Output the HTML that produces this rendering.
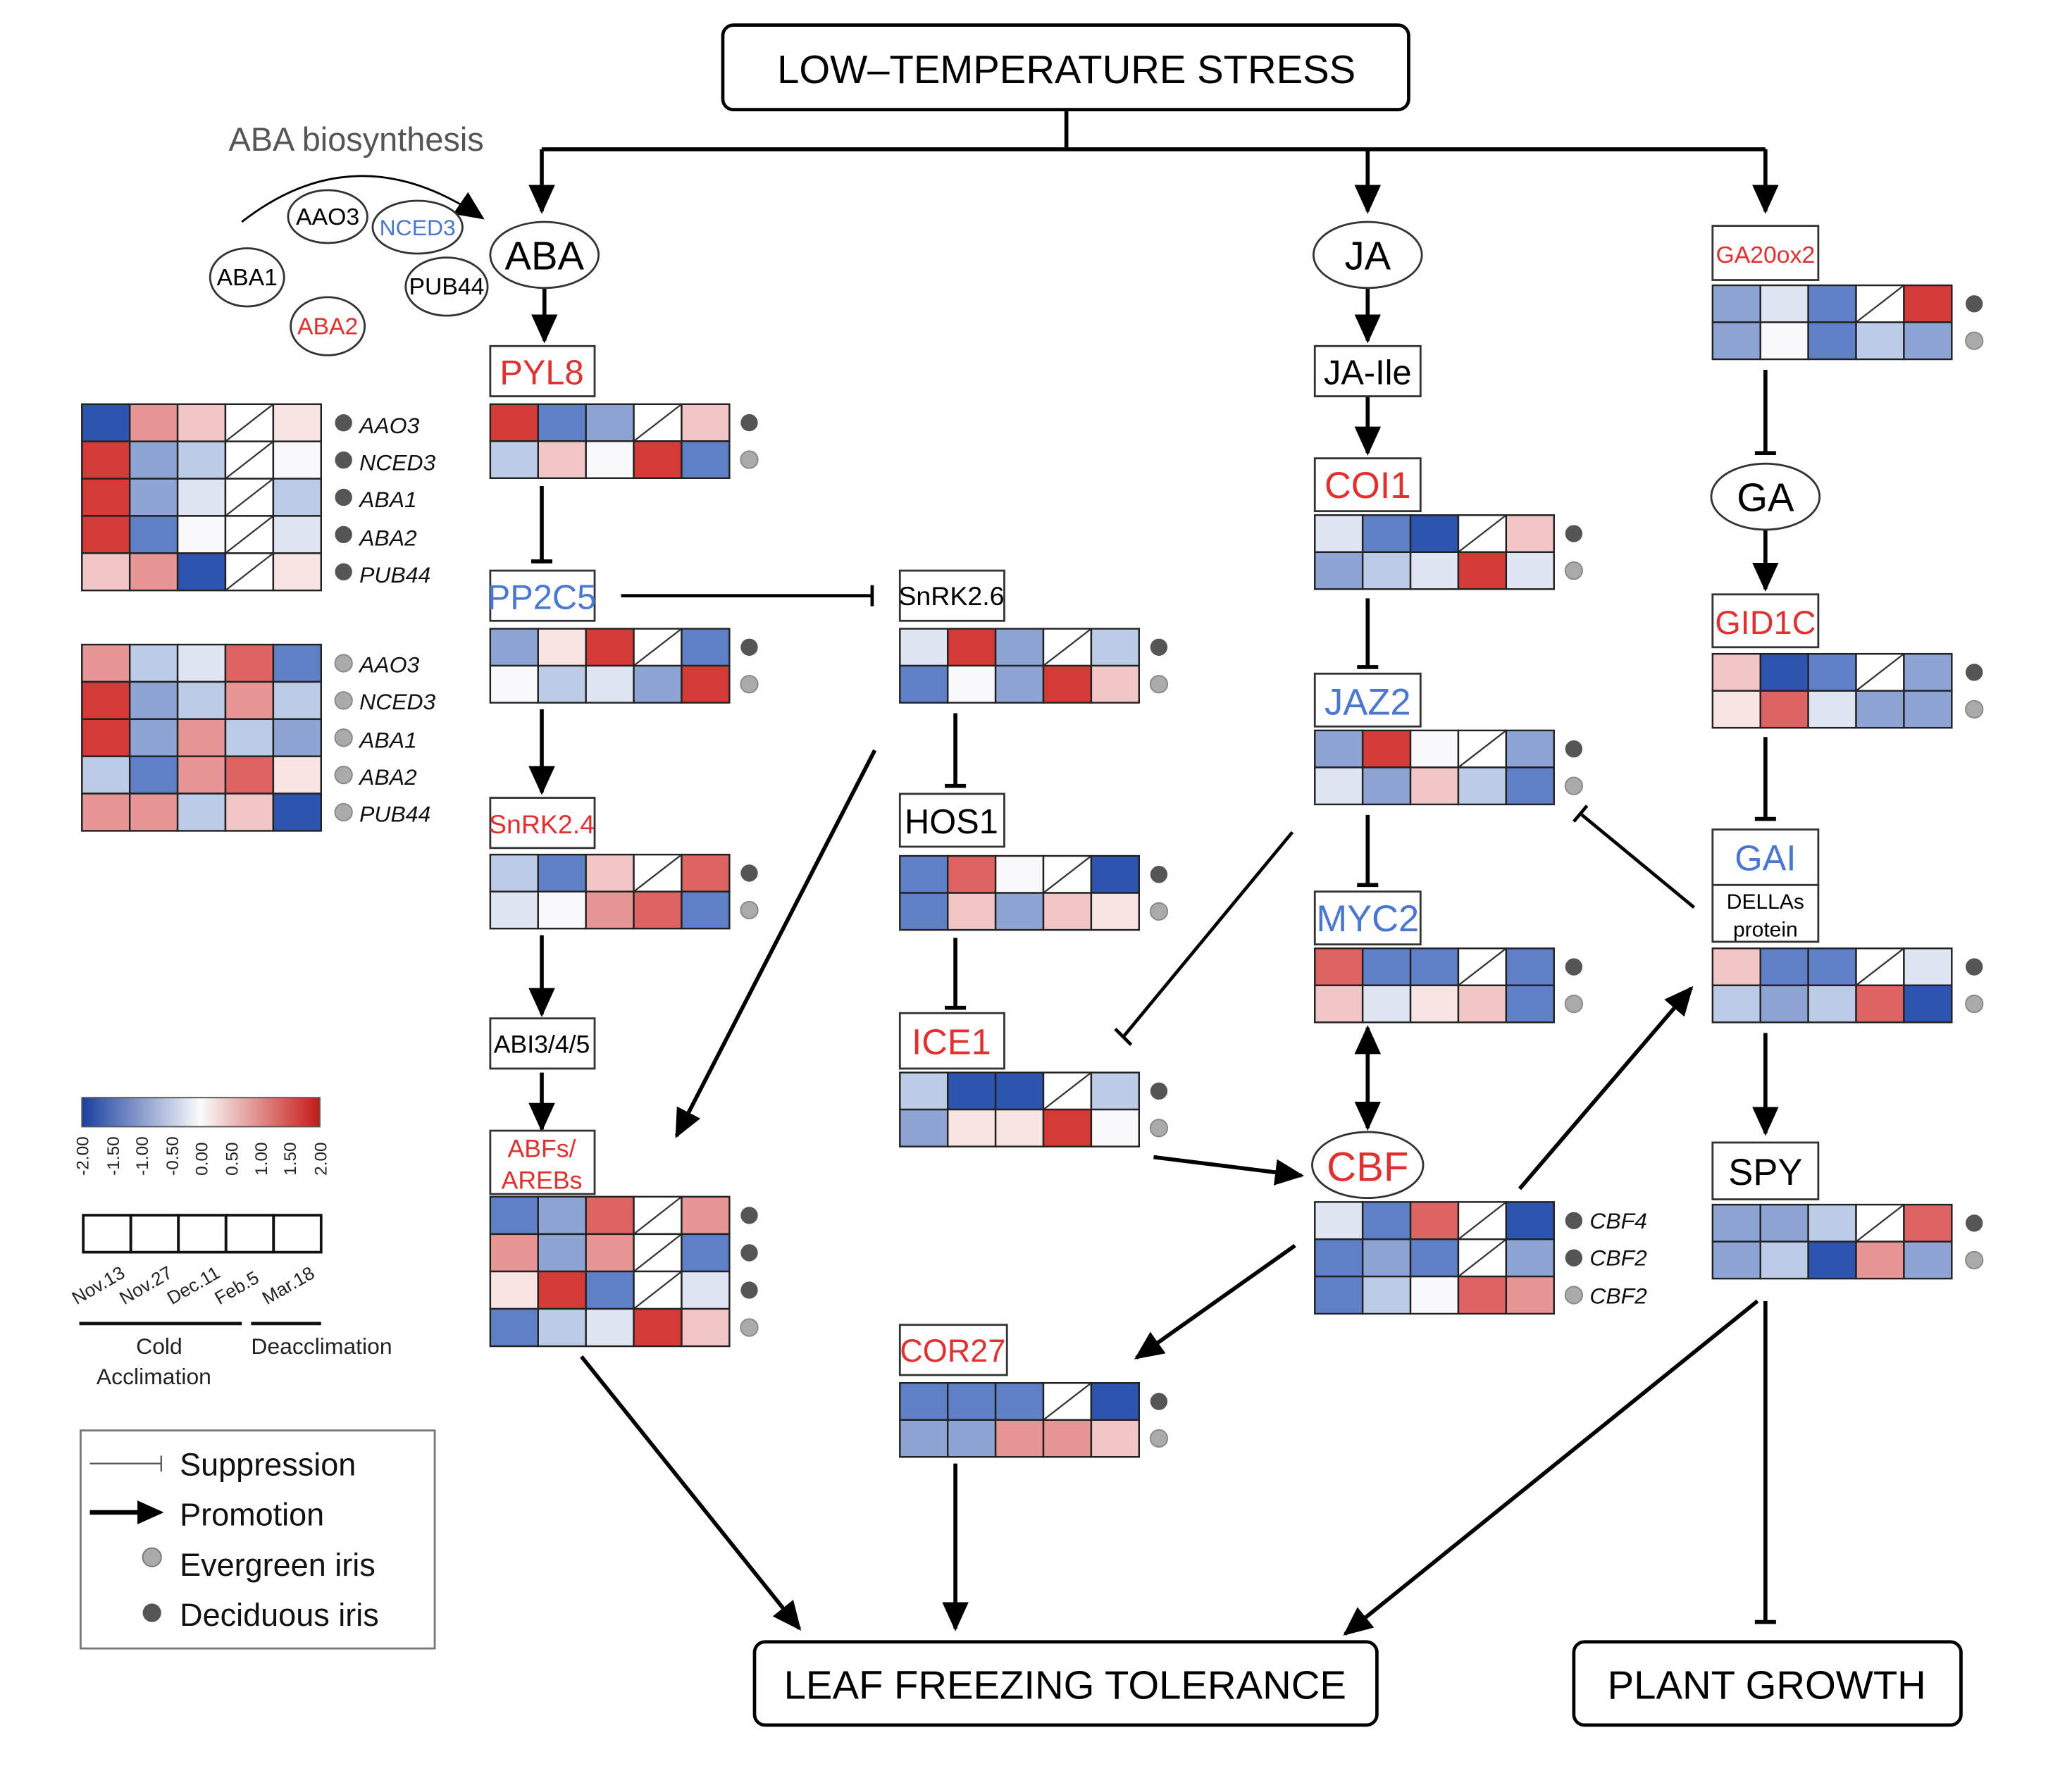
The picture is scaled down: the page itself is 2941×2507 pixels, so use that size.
<!DOCTYPE html>
<html><head><meta charset="utf-8"><style>
html,body{margin:0;padding:0;background:#fff;}
svg{display:block;font-family:"Liberation Sans",sans-serif;}
</style></head><body>
<svg id="s" width="2941" height="2507" viewBox="0 0 1568 1337" preserveAspectRatio="none" xmlns="http://www.w3.org/2000/svg">
<defs>
<marker id="ah" markerUnits="userSpaceOnUse" markerWidth="24" markerHeight="20" refX="20" refY="10" orient="auto"><path d="M0,0 L22,10 L0,20 z" fill="#000"/></marker>
<marker id="ah2" markerUnits="userSpaceOnUse" markerWidth="24" markerHeight="20" refX="20" refY="10" orient="auto-start-reverse"><path d="M0,0 L22,10 L0,20 z" fill="#000"/></marker>
<linearGradient id="gr" x1="0" x2="1"><stop offset="0" stop-color="#1a3fa0"/><stop offset="0.5" stop-color="#fbfbfb"/><stop offset="1" stop-color="#c41a16"/></linearGradient>
</defs>
<g id="hm"></g>
<g stroke="#000" fill="none" stroke-width="3">
<rect x="547" y="19" width="519" height="64" rx="8" stroke-width="2.5"/>
<rect x="571" y="1243" width="471" height="63" rx="8" stroke-width="2.5"/>
<rect x="1191" y="1243" width="293" height="63" rx="8" stroke-width="2.5"/>
<path d="M807,83 V113 M410,113 H1336"/>
<path d="M410,113 V160" marker-end="url(#ah)"/>
<path d="M1035,113 V160" marker-end="url(#ah)"/>
<path d="M1336,113 V160" marker-end="url(#ah)"/>
<path d="M412,218 V258" marker-end="url(#ah)"/>
<path d="M410,368 V425 M402,425 H418"/>
<path d="M470,451 H660 M660,443 V459" stroke-width="2.5"/>
<path d="M410,537 V600" marker-end="url(#ah)"/>
<path d="M410,708 V768" marker-end="url(#ah)"/>
<path d="M410,812 V855" marker-end="url(#ah)"/>
<path d="M662,568 L512,860" marker-end="url(#ah)"/>
<path d="M723,540 V595 M715,595 H731"/>
<path d="M723,710 V763 M715,763 H731"/>
<path d="M873,876 L985,890" marker-end="url(#ah)"/>
<path d="M440,1027 L605,1233" marker-end="url(#ah)"/>
<path d="M723,1108 V1233" marker-end="url(#ah)"/>
<path d="M1035,218 V258" marker-end="url(#ah)"/>
<path d="M1035,300 V343" marker-end="url(#ah)"/>
<path d="M1035,453 V505 M1027,505 H1043"/>
<path d="M1035,617 V670 M1027,670 H1043"/>
<path d="M1035,778 V854" marker-end="url(#ah)" marker-start="url(#ah2)"/>
<path d="M978,630 L850,785 M844,779 L856,791" stroke-width="2.5"/>
<path d="M1282,687 L1196,616 M1191,622 L1201,610" stroke-width="2.5"/>
<path d="M980,943 L860,1028" marker-end="url(#ah)"/>
<path d="M1150,900 L1280,748" marker-end="url(#ah)"/>
<path d="M1336,280 V343 M1328,343 H1344"/>
<path d="M1336,401 V446" marker-end="url(#ah)"/>
<path d="M1336,558 V620 M1328,620 H1344"/>
<path d="M1336,782 V858" marker-end="url(#ah)"/>
<path d="M1330,985 L1018,1237" marker-end="url(#ah)"/>
<path d="M1336,985 V1228 M1328,1228 H1344"/>
<path d="M183,168 Q270,100 365,165" stroke-width="1.5" marker-end="url(#ah)"/>
</g>
<g stroke="#333" fill="#fff" stroke-width="1.5">
<ellipse cx="412" cy="193" rx="41" ry="25"/>
<ellipse cx="1035" cy="193" rx="41" ry="25"/>
<ellipse cx="1336" cy="376" rx="41" ry="25"/>
<ellipse cx="1035" cy="882" rx="42" ry="25"/>
<ellipse cx="248" cy="164" rx="30" ry="20"/>
<ellipse cx="316" cy="172" rx="34" ry="20"/>
<ellipse cx="187" cy="210" rx="28" ry="22"/>
<ellipse cx="338" cy="217" rx="31" ry="22"/>
<ellipse cx="248" cy="247" rx="28" ry="22"/>
<rect x="371" y="262" width="79" height="38"/>
<rect x="371" y="432" width="79" height="38"/>
<rect x="371" y="604" width="79" height="38"/>
<rect x="371" y="771" width="79" height="38"/>
<rect x="371" y="856" width="79" height="48"/>
<rect x="681" y="432" width="79" height="38"/>
<rect x="681" y="601" width="79" height="40"/>
<rect x="681" y="767" width="79" height="42"/>
<rect x="681" y="1003" width="81" height="38"/>
<rect x="995" y="262" width="80" height="38"/>
<rect x="995" y="347" width="80" height="40"/>
<rect x="995" y="510" width="80" height="40"/>
<rect x="995" y="675" width="80" height="40"/>
<rect x="1296" y="171" width="80" height="41"/>
<rect x="1296" y="450" width="80" height="40"/>
<rect x="1296" y="628" width="80" height="42"/>
<rect x="1296" y="670" width="80" height="43"/>
<rect x="1296" y="865" width="80" height="43"/>
</g>
<g text-anchor="middle" fill="#000">
<text x="807" y="63" font-size="30">LOW–TEMPERATURE STRESS</text>
<text x="806" y="1286" font-size="30">LEAF FREEZING TOLERANCE</text>
<text x="1337" y="1286" font-size="30">PLANT GROWTH</text>
<text x="412" y="204" font-size="30">ABA</text>
<text x="1035" y="204" font-size="30">JA</text>
<text x="1336" y="387" font-size="30">GA</text>
<text x="1035" y="894" font-size="31" fill="#e03030">CBF</text>
<text x="248" y="170" font-size="18">AAO3</text>
<text x="316" y="178" font-size="17" fill="#4a78d0">NCED3</text>
<text x="187" y="216" font-size="18">ABA1</text>
<text x="338" y="223" font-size="18">PUB44</text>
<text x="248" y="253" font-size="18" fill="#e03030">ABA2</text>
<text x="410" y="291" font-size="26" fill="#e03030">PYL8</text>
<text x="410" y="461" font-size="26" fill="#4a78d0">PP2C5</text>
<text x="410" y="631" font-size="20" fill="#e03030">SnRK2.4</text>
<text x="410" y="797" font-size="19">ABI3/4/5</text>
<text x="410" y="876" font-size="19" fill="#e03030">ABFs/</text>
<text x="410" y="900" font-size="19" fill="#e03030">AREBs</text>
<text x="720" y="458" font-size="20">SnRK2.6</text>
<text x="720" y="631" font-size="26">HOS1</text>
<text x="720" y="798" font-size="27" fill="#e03030">ICE1</text>
<text x="721" y="1031" font-size="24" fill="#e03030">COR27</text>
<text x="1035" y="291" font-size="26">JA-Ile</text>
<text x="1035" y="377" font-size="28" fill="#e03030">COI1</text>
<text x="1035" y="541" font-size="28" fill="#4a78d0">JAZ2</text>
<text x="1035" y="705" font-size="28" fill="#4a78d0">MYC2</text>
<text x="1336" y="199" font-size="18" fill="#e03030">GA20ox2</text>
<text x="1336" y="480" font-size="25" fill="#e03030">GID1C</text>
<text x="1336" y="659" font-size="27" fill="#4a78d0">GAI</text>
<text x="1336" y="688" font-size="16">DELLAs</text>
<text x="1336" y="709" font-size="16">protein</text>
<text x="1336" y="897" font-size="28">SPY</text>
</g>
<text x="173" y="114" font-size="25" fill="#555">ABA biosynthesis</text>
<g font-size="17" font-style="italic" fill="#111">
<text x="272" y="328">AAO3</text><text x="272" y="356">NCED3</text><text x="272" y="384">ABA1</text><text x="272" y="413">ABA2</text><text x="272" y="441">PUB44</text>
<text x="272" y="509">AAO3</text><text x="272" y="537">NCED3</text><text x="272" y="566">ABA1</text><text x="272" y="594">ABA2</text><text x="272" y="622">PUB44</text>
<text x="1203" y="930">CBF4</text><text x="1203" y="958">CBF2</text><text x="1203" y="987">CBF2</text>
</g>
<g id="dots"></g>
<rect x="62" y="831" width="180" height="22" fill="url(#gr)" stroke="#555" stroke-width="1"/>
<g font-size="13" fill="#222">
<text transform="translate(67,890) rotate(-90)">-2.00</text>
<text transform="translate(90,890) rotate(-90)">-1.50</text>
<text transform="translate(112,890) rotate(-90)">-1.00</text>
<text transform="translate(135,890) rotate(-90)">-0.50</text>
<text transform="translate(157,890) rotate(-90)">0.00</text>
<text transform="translate(180,890) rotate(-90)">0.50</text>
<text transform="translate(202,890) rotate(-90)">1.00</text>
<text transform="translate(224,890) rotate(-90)">1.50</text>
<text transform="translate(247,890) rotate(-90)">2.00</text>
</g>
<g fill="none" stroke="#111" stroke-width="2">
<rect x="63" y="920" width="36" height="28"/><rect x="99" y="920" width="36" height="28"/><rect x="135" y="920" width="36" height="28"/><rect x="171" y="920" width="36" height="28"/><rect x="207" y="920" width="36" height="28"/>
<path d="M60,1002 H183 M190,1002 H243" stroke-width="2.5"/>
</g>
<g font-size="14" fill="#222">
<text transform="translate(58,988) rotate(-30)">Nov.13</text>
<text transform="translate(94,988) rotate(-30)">Nov.27</text>
<text transform="translate(130,988) rotate(-30)">Dec.11</text>
<text transform="translate(166,988) rotate(-30)">Feb.5</text>
<text transform="translate(202,988) rotate(-30)">Mar.18</text>
</g>
<g font-size="17" fill="#222">
<text x="103" y="1025">Cold</text>
<text x="73" y="1048">Acclimation</text>
<text x="190" y="1025">Deacclimation</text>
</g>
<rect x="61" y="1083" width="268" height="165" fill="none" stroke="#777" stroke-width="1.5"/>
<path d="M68,1108 H122 M122,1102 V1114" stroke="#555" stroke-width="1.2" fill="none"/>
<path d="M68,1145 H108" stroke="#000" stroke-width="3.5"/>
<path d="M104,1136 L124,1145 L104,1154 z" fill="#000"/>
<circle cx="115" cy="1179" r="7" fill="#aaa" stroke="#777"/>
<circle cx="115" cy="1221" r="7" fill="#555"/>
<g font-size="24" fill="#111">
<text x="136" y="1117">Suppression</text>
<text x="136" y="1155">Promotion</text>
<text x="136" y="1193">Evergreen iris</text>
<text x="136" y="1231">Deciduous iris</text>
</g>
<script>
(function(){
var C={B3:"#2d55b0",B2:"#5f80c6",B1:"#8ea5d4",B0:"#bccbe6",b:"#dfe5f2",W:"#f9f9fb",r:"#f8e4e3",R0:"#f2c6c6",R1:"#e89595",R2:"#de6464",R3:"#d43a36"};
var ns="http://www.w3.org/2000/svg",g=document.getElementById("hm"),dg=document.getElementById("dots");
function el(t,a,p){var e=document.createElementNS(ns,t);for(var k in a)e.setAttribute(k,a[k]);(p||g).appendChild(e);return e;}
function hm(x,y,rows,h,dotx,dots){var w=36.2;
rows.forEach(function(r,i){r.split(" ").forEach(function(c,j){var cx=x+j*w,cy=y+i*h;
el("rect",{x:cx,y:cy,width:w,height:h,fill:c=="X"?"#fff":C[c],stroke:"#222","stroke-width":1.3});
if(c=="X")el("line",{x1:cx,y1:cy+h,x2:cx+w,y2:cy,stroke:"#333","stroke-width":1.2});});
if(dotx){var d=dots[i];el("circle",{cx:dotx,cy:y+i*h+h/2,r:6.5,fill:d?"#aaa":"#555",stroke:d?"#888":"none"},dg);}});}
hm(62,306,["B3 R1 R0 X r","R3 B1 B0 X W","R3 B1 b X B0","R3 B2 W X b","R0 R1 B3 X r"],28.2,260,[0,0,0,0,0]);
hm(62,488,["R1 B0 b R2 B2","R3 B1 B0 R1 B0","R3 B1 R1 B0 B1","B0 B2 R1 R2 r","R1 R1 B0 R0 B3"],28.2,260,[1,1,1,1,1]);
hm(371,306,["R3 B2 B1 X R0","B0 R0 W R3 B2"],28,567,[0,1]);
hm(371,476,["B1 r R3 X B2","W B0 b B1 R3"],28,567,[0,1]);
hm(371,647,["B0 B2 R0 X R2","b W R1 R2 B2"],28,567,[0,1]);
hm(371,906,["B2 B1 R2 X R1","R1 B1 R1 X B2","r R3 B2 X b","B2 B0 b R3 R0"],28.3,567,[0,0,0,1]);
hm(681,476,["b R3 B1 X B0","B2 W B1 R3 R0"],28,877,[0,1]);
hm(681,648,["B2 R2 W X B3","B2 R0 B1 R0 r"],28,877,[0,1]);
hm(681,812,["B0 B3 B3 X B0","B1 r r R3 W"],28,877,[0,1]);
hm(681,1047,["B2 B2 B2 X B3","B1 B1 R1 R1 R0"],28,877,[0,1]);
hm(995,390,["b B2 B3 X R0","B1 B0 b R3 b"],28,1191,[0,1]);
hm(995,553,["B1 R3 W X B1","b B1 R0 B0 B2"],28,1191,[0,1]);
hm(995,718,["R2 B2 B2 X B2","R0 b r R0 B2"],28,1191,[0,1]);
hm(995,910,["b B2 R2 X B3","B2 B1 B2 X B1","B2 B0 W R2 R1"],28.2,1191,[0,0,1]);
hm(1296,216,["B1 b B2 X R3","B1 W B2 B0 B1"],28,1494,[0,1]);
hm(1296,495,["R0 B3 B2 X B1","r R2 b B1 B1"],28,1494,[0,1]);
hm(1296,718,["R0 B2 B2 X b","B0 B1 B0 R2 B3"],28,1494,[0,1]);
hm(1296,912,["B1 B1 B0 X R2","B1 B0 B3 R1 B1"],28,1494,[0,1]);
})();
</script>
</svg>
</body></html>
